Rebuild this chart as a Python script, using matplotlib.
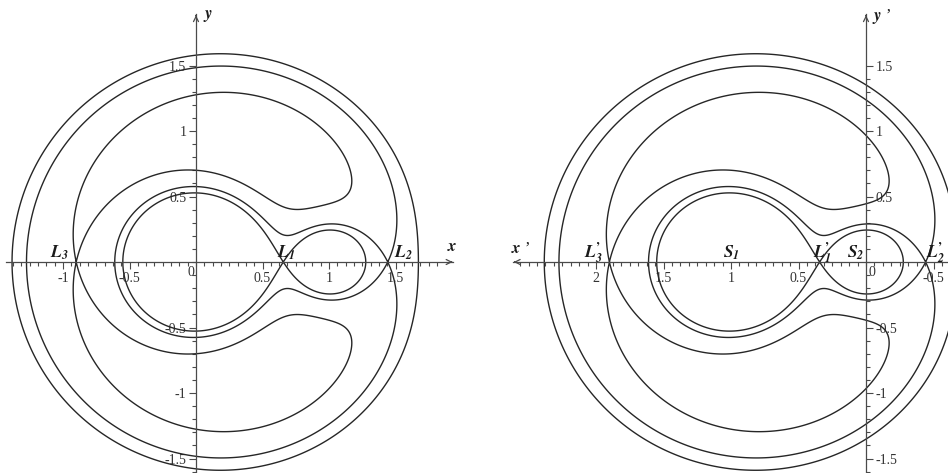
import numpy as np
import matplotlib
matplotlib.use("Agg")
import matplotlib.pyplot as plt
from matplotlib.ticker import FixedLocator

plt.rcParams["mathtext.fontset"] = "stix"
plt.rcParams["font.family"] = ["Liberation Serif", "DejaVu Serif"]

# mass ratio of the second star and the collinear points
mass_ratio = 0.17
lagrange_x = {"L1": 0.6565, "L2": 1.4415, "L3": -0.9005}

# tick values and labels
x_ticks = [-1.0, -0.5, 0.5, 1.0, 1.5]
x_tick_labels = ["-1", "-0.5", "0.5", "1", "1.5"]
xp_ticks = [2.0, 1.5, 1.0, 0.5, -0.5]
xp_tick_labels = ["2", "1.5", "1", "0.5", "-0.5"]
y_ticks = [-1.5, -1.0, -0.5, 0.5, 1.0, 1.5]
y_tick_labels = ["-1.5", "-1", "-0.5", "0.5", "1", "1.5"]

# star positions in the primed frame
stars_xp = {"S1": 1.0, "S2": 0.0}

CURVE = "#262626"
AXIS = "#4a4a4a"
TXT = "#333333"


def potential(x, y, mu):
    r1 = np.hypot(x, y)
    r2 = np.hypot(x - 1.0, y)
    return 0.5 * ((x - mu) ** 2 + y ** 2) + (1 - mu) / r1 + mu / r2


levels = sorted(potential(v, 0.0, mass_ratio) for v in lagrange_x.values())

fig = plt.figure(figsize=(9.48, 4.73), dpi=100)

# pixel layout: origin of left panel at (196, 262), right panel origin at (866, 262)
W, H = 948.0, 473.0
sy = 131.0
ylim = (-(H - 262) / sy, 262 / sy)

axL = fig.add_axes([0, 0, 470 / W, 1])
axL.set_xlim((0 - 196) / 133.0, (470 - 196) / 133.0)
axL.set_ylim(*ylim)

axR = fig.add_axes([470 / W, 0, 478 / W, 1])
axR.set_xlim((866 - 470) / 135.0, (866 - 948) / 135.0)
axR.set_ylim(*ylim)

gx = np.linspace(-1.9, 2.3, 1400)
gy = np.linspace(-1.8, 1.8, 1200)
GX, GY = np.meshgrid(gx, gy)
with np.errstate(divide="ignore"):
    Z = potential(GX, GY, mass_ratio)
Z = np.minimum(Z, 50)

axL.contour(GX, GY, Z, levels=levels, colors=CURVE, linewidths=1.0)
# primed frame: x' = 1 - x
axR.contour(1.0 - GX, GY, Z, levels=levels, colors=CURVE, linewidths=1.0)

y_minor = np.arange(-1.6, 1.55, 0.1)
for ax in (axL, axR):
    ax.patch.set_alpha(0)
    ax.spines["top"].set_visible(False)
    ax.spines["bottom"].set_position(("data", 0))
    ax.spines["bottom"].set_color(AXIS)
    ax.spines["bottom"].set_linewidth(0.9)
    ax.tick_params(which="both", colors=AXIS, labelcolor=TXT,
                   labelsize=10, width=0.8)
    ax.tick_params(which="major", length=5, pad=2)
    ax.tick_params(which="minor", length=3)
    ax.yaxis.set_minor_locator(FixedLocator(y_minor))

# left panel axes
axL.spines["right"].set_visible(False)
axL.spines["left"].set_position(("data", 0))
axL.spines["left"].set_color(AXIS)
axL.spines["left"].set_linewidth(0.9)
axL.spines["bottom"].set_bounds(-1.43, 1.93)
axL.spines["left"].set_bounds(-1.7, 1.89)
axL.xaxis.set_major_locator(FixedLocator(x_ticks))
axL.xaxis.set_minor_locator(FixedLocator(np.arange(-1.375, 1.82, 0.0625)))
axL.set_xticklabels(x_tick_labels)
axL.yaxis.set_major_locator(FixedLocator(y_ticks))
axL.set_yticklabels(y_tick_labels)
axL.text(-0.015, -0.03, "0", ha="right", va="top", fontsize=10, color=TXT)

# right panel axes
axR.spines["left"].set_visible(False)
axR.spines["right"].set_position(("data", 0))
axR.spines["right"].set_color(AXIS)
axR.spines["right"].set_linewidth(0.9)
axR.yaxis.tick_right()
axR.spines["bottom"].set_bounds(-0.7, 2.615)
axR.spines["right"].set_bounds(-1.7, 1.89)
axR.xaxis.set_major_locator(FixedLocator(xp_ticks))
axR.xaxis.set_minor_locator(FixedLocator(np.arange(-0.625, 2.57, 0.0625)))
axR.set_xticklabels(xp_tick_labels)
axR.yaxis.set_major_locator(FixedLocator(y_ticks))
axR.set_yticklabels(y_tick_labels)
axR.text(-0.02, -0.03, "0", ha="left", va="top", fontsize=10, color=TXT)

arrow = dict(arrowstyle="->", color=AXIS, lw=0.9, mutation_scale=9)
axL.annotate("", xy=(1.95, 0), xytext=(1.9, 0), arrowprops=arrow)
axL.annotate("", xy=(0, 1.905), xytext=(0, 1.86), arrowprops=arrow)
axR.annotate("", xy=(2.63, 0), xytext=(2.58, 0), arrowprops=arrow)
axR.annotate("", xy=(0, 1.905), xytext=(0, 1.86), arrowprops=arrow)

ax_lab = dict(fontsize=12, color="#1a1a1a", va="center")
axL.text(1.93, 0.115, r"$\mathbfit{x}$", ha="center", **ax_lab)
axL.text(0.055, 1.875, r"$\mathbfit{y}$", ha="left", **ax_lab)
axR.text(2.63, 0.1, r"$\mathbfit{x}$ ’", ha="left", **ax_lab)
axR.text(-0.045, 1.875, r"$\mathbfit{y}$ ’", ha="left", **ax_lab)

lab = dict(fontsize=12.5, color="#1a1a1a", va="baseline")
# Lagrange point labels, left frame
axL.text(lagrange_x["L3"] - 0.06, 0.035, r"$\mathbfit{L}_{\mathbfit{3}}$",
         ha="right", **lab)
axL.text(lagrange_x["L1"] - 0.05, 0.035, r"$\mathbfit{L}_{\mathbfit{1}}$",
         ha="left", **lab)
axL.text(lagrange_x["L2"] + 0.05, 0.035, r"$\mathbfit{L}_{\mathbfit{2}}$",
         ha="left", **lab)

# same labels in the primed frame
prime = r"$\mathbfit{L}^{\mathbf{’}}_{\mathbfit{%d}}$"
axR.text(1 - lagrange_x["L3"] + 0.19, 0.035, prime % 3, ha="left", **lab)
axR.text(1 - lagrange_x["L1"] + 0.05, 0.035, prime % 1, ha="left", **lab)
axR.text(1 - lagrange_x["L2"] + 0.0, 0.035, prime % 2, ha="left", **lab)
for name, xp in stars_xp.items():
    axR.text(xp + 0.06 if name == "S1" else xp + 0.14, 0.035,
             r"$\mathbfit{S}_{\mathbfit{%s}}$" % name[1], ha="left", **lab)

fig.savefig("out.png", dpi=100)
